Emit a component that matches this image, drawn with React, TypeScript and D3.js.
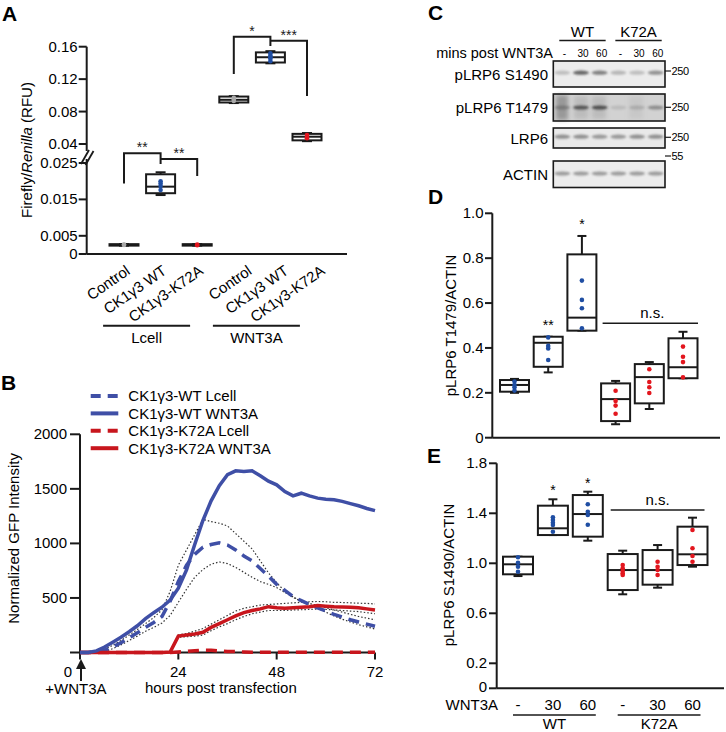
import React from 'react';
import * as d3 from 'd3';

const FONT = '"Liberation Sans", Arial, Helvetica, sans-serif';
const BLUE_LINE = '#3f4fa6';
const RED_LINE = '#c8161d';
const BLUE_DOT = '#1f4ea3';
const RED_DOT = '#e3161e';
const GRAY_DOT = '#a9a9a9';
const INK = '#1a1a1a';

// ---------- Panel A ----------
const aGroups = ['Lcell', 'WNT3A'];
const aCategories = ['Control', 'CK1γ3 WT', 'CK1γ3-K72A'];
const aKeys = ['L-Control', 'L-WT', 'L-K72A', 'W-Control', 'W-WT', 'W-K72A'];
// [min, q1, median, q3, max]
const aStats = [
  [0.0023, 0.0023, 0.0025, 0.0027, 0.0027],
  [0.0162, 0.0167, 0.0185, 0.0219, 0.02245],
  [0.0023, 0.0023, 0.0025, 0.0027, 0.0027],
  [0.0905, 0.0912, 0.0945, 0.0985, 0.099],
  [0.1395, 0.1405, 0.147, 0.153, 0.1545],
  [0.0435, 0.0445, 0.049, 0.0525, 0.0535],
];
const aPoints = [
  [0.0025, 0.0026],
  [0.02, 0.0194, 0.0187, 0.0176],
  [0.0024, 0.0026],
  [0.093, 0.095, 0.097],
  [0.142, 0.145, 0.147, 0.149, 0.152],
  [0.047, 0.049, 0.051],
];
const aColors = [GRAY_DOT, BLUE_DOT, RED_DOT, GRAY_DOT, BLUE_DOT, RED_DOT];
const aTicksLow = [0, 0.005, 0.015, 0.025];
const aTickLowLabels = ['0', '0.005', '0.015', '0.025'];
const aTicksHigh = [0.04, 0.08, 0.12, 0.16];
const aTickHighLabels = ['0.04', '0.08', '0.12', '0.16'];
// brackets: left idx, mid idx, right idx, left foot, top1, mid foot, top2, right foot, labels
const aBrackets = [
  { l: 0, m: 1, r: 2, lf: 0.0194, t1: 0.0277, mf: 0.0247, t2: 0.0261, rf: 0.0214, s1: '**', s2: '**' },
  { l: 3, m: 4, r: 5, lf: 0.1263, t1: 0.1723, mf: 0.1608, t2: 0.1674, rf: 0.0992, s1: '*', s2: '***' },
];

// ---------- Panel B ----------
const hours = [0, 2, 4, 6, 8, 10, 12, 14, 16, 18, 20, 22, 24, 26, 28, 30, 32, 34, 36, 38, 40, 42, 44, 46, 48, 50, 52, 54, 56, 58, 60, 62, 64, 66, 68, 70, 72];
const wtLcell = [0, 0, 5, 20, 50, 90, 135, 180, 230, 275, 330, 470, 650, 800, 900, 965, 990, 1005, 985, 940, 885, 840, 770, 700, 625, 570, 512, 475, 440, 410, 380, 350, 325, 300, 280, 260, 240];
const wtLcellUpper = [0, 0, 10, 30, 65, 110, 160, 210, 265, 320, 390, 560, 800, 940, 1080, 1220, 1200, 1185, 1160, 1090, 1020, 950, 840, 730, 640, 560, 505, 470, 450, 430, 410, 390, 370, 350, 330, 315, 300];
const wtLcellLower = [0, 0, 0, 10, 35, 70, 110, 150, 195, 230, 270, 340, 460, 580, 690, 760, 810, 830, 815, 780, 735, 690, 650, 625, 595, 550, 510, 470, 440, 405, 370, 335, 305, 280, 255, 235, 215];
const wtWnt = [0, 0, 15, 50, 95, 140, 190, 245, 310, 365, 415, 480, 590, 757, 990, 1210, 1390, 1530, 1630, 1665, 1660, 1665, 1620, 1570, 1537, 1475, 1436, 1460, 1435, 1415, 1405, 1400, 1385, 1365, 1345, 1320, 1300];
const k72aLcell = [0, 0, 0, 0, 0, 0, 0, 0, 0, 0, 0, 0, 5, 10, 15, 20, 20, 15, 10, 8, 5, 3, 3, 3, 3, 3, 3, 3, 3, 3, 3, 3, 3, 3, 3, 3, 3];
const k72aWnt = [0, 0, 0, 0, 0, 0, 0, 0, 0, 0, 0, 5, 150, 160, 170, 185, 230, 265, 300, 335, 365, 385, 400, 420, 410, 405, 410, 415, 420, 430, 425, 420, 418, 415, 410, 400, 390];
const k72aWntUpper = [0, 0, 0, 0, 0, 0, 0, 0, 0, 0, 0, 5, 160, 175, 195, 220, 260, 300, 340, 380, 405, 420, 435, 440, 445, 450, 455, 460, 465, 468, 465, 460, 458, 455, 452, 450, 445];
const k72aWntLower = [0, 0, 0, 0, 0, 0, 0, 0, 0, 0, 0, 5, 140, 145, 150, 160, 200, 235, 265, 300, 330, 355, 370, 385, 385, 385, 390, 392, 395, 398, 395, 390, 385, 380, 375, 365, 355];
const bYTicks = [0, 500, 1000, 1500, 2000];
const bYTickLabels = ['', '500', '1000', '1500', '2000'];
const bXTicks = [0, 24, 48, 72];
const bLegend = ['CK1γ3-WT Lcell', 'CK1γ3-WT WNT3A', 'CK1γ3-K72A Lcell', 'CK1γ3-K72A WNT3A'];

// ---------- Panel C ----------
const cGroups = ['WT', 'K72A'];
const cLanes = ['-', '30', '60', '-', '30', '60'];
const cRows = ['pLRP6 S1490', 'pLRP6 T1479', 'LRP6', 'ACTIN'];
const bandS1490 = [0.25, 0.75, 0.6, 0.3, 0.25, 0.5];
const bandT1479 = [0.35, 0.8, 0.85, 0.15, 0.2, 0.45];
const bandLRP6 = [0.5, 0.5, 0.45, 0.45, 0.5, 0.5];
const bandActin = [0.45, 0.45, 0.45, 0.45, 0.45, 0.45];
const cMarkers = ['250', '250', '250', '55'];

// ---------- Panel D ----------
const deLanes = ['-', '30', '60', '-', '30', '60'];
const deGroups = ['WT', 'K72A'];
const deColors = [BLUE_DOT, BLUE_DOT, BLUE_DOT, RED_DOT, RED_DOT, RED_DOT];
const dStats = [
  [0.2, 0.205, 0.235, 0.257, 0.262],
  [0.291, 0.316, 0.423, 0.45, 0.45],
  [0.477, 0.477, 0.535, 0.817, 0.899],
  [0.06, 0.074, 0.172, 0.242, 0.253],
  [0.128, 0.153, 0.27, 0.328, 0.337],
  [0.265, 0.265, 0.314, 0.443, 0.472],
];
const dPoints = [
  [0.25, 0.235, 0.225, 0.21],
  [0.447, 0.409, 0.398, 0.346],
  [0.7, 0.614, 0.577, 0.488],
  [0.209, 0.164, 0.143, 0.107],
  [0.305, 0.248, 0.225, 0.199],
  [0.406, 0.361, 0.337, 0.269],
];
const dTicks = [0, 0.2, 0.4, 0.6, 0.8, 1.0];
const dTickLabels = ['0', '0.2', '0.4', '0.6', '0.8', '1.0'];
const dStars = ['', '**', '*', '', '', ''];

// ---------- Panel E ----------
const eStats = [
  [0.898, 0.912, 0.992, 1.053, 1.053],
  [1.226, 1.226, 1.28, 1.461, 1.512],
  [1.181, 1.213, 1.394, 1.546, 1.573],
  [0.752, 0.786, 0.946, 1.074, 1.101],
  [0.805, 0.829, 0.946, 1.106, 1.146],
  [0.973, 0.986, 1.072, 1.293, 1.365],
];
const ePoints = [
  [1.048, 1.005, 0.973, 0.933],
  [1.368, 1.346, 1.325, 1.306, 1.253],
  [1.472, 1.413, 1.386, 1.309],
  [0.986, 0.96, 0.938, 0.92, 0.906],
  [1.013, 0.973, 0.946, 0.906],
  [1.266, 1.12, 1.058, 1.013],
];
const eTicks = [0, 0.2, 0.6, 1.0, 1.4, 1.8];
const eTickLabels = ['0', '0.2', '0.6', '1.0', '1.4', '1.8'];
const eStars = ['', '*', '*', '', '', ''];

type BoxProps = {
  cx: number; w: number; stats: number[]; y: (v: number) => number;
  pts: number[]; color: string; capW: number; sw?: number; r?: number;
};
function Box({ cx, w, stats, y, pts, color, capW, sw = 2, r = 2.3 }: BoxProps) {
  const [mn, q1, md, q3, mx] = stats;
  return (
    <g>
      <line x1={cx} x2={cx} y1={y(mx)} y2={y(q3)} stroke={INK} strokeWidth={sw} />
      <line x1={cx} x2={cx} y1={y(q1)} y2={y(mn)} stroke={INK} strokeWidth={sw} />
      <line x1={cx - capW / 2} x2={cx + capW / 2} y1={y(mx)} y2={y(mx)} stroke={INK} strokeWidth={sw} />
      <line x1={cx - capW / 2} x2={cx + capW / 2} y1={y(mn)} y2={y(mn)} stroke={INK} strokeWidth={sw} />
      <rect x={cx - w / 2} y={y(q3)} width={w} height={Math.max(0.5, y(q1) - y(q3))} fill="#fff" stroke={INK} strokeWidth={sw} />
      <line x1={cx - w / 2} x2={cx + w / 2} y1={y(md)} y2={y(md)} stroke={INK} strokeWidth={sw} />
      {pts.map((p, i) => (
        <circle key={i} cx={cx} cy={y(p)} r={r} fill={color} />
      ))}
    </g>
  );
}

export default function App() {
  // ----- Panel A -----
  const xA = d3.scalePoint<string>().domain(aKeys).range([124, 307]);
  const yALo = d3.scaleLinear().domain([0, 0.025]).range([254, 163]);
  const yAHi = d3.scaleLinear().domain([0.04, 0.16]).range([144, 46.7]);
  const yA = (v: number) => (v >= 0.035 ? yAHi(v) : yALo(v));
  const axA = 86.7;
  const labelOffsets = [7, 19];

  // ----- Panel B -----
  const xB = d3.scaleLinear().domain([0, 72]).range([80, 375]);
  const yB = d3.scaleLinear().domain([0, 2000]).range([652.5, 434.3]);
  const lineB = (vals: number[]) =>
    d3.line<number>().x((_, i) => xB(hours[i])).y((v) => yB(v))(vals) || '';
  const legendStyles = [
    { color: BLUE_LINE, dash: '10,7' },
    { color: BLUE_LINE, dash: '' },
    { color: RED_LINE, dash: '10,7' },
    { color: RED_LINE, dash: '' },
  ];

  // ----- Panel C -----
  const xC = d3.scalePoint<number>().domain(d3.range(6)).range([562.3, 655.7]);
  const boxesC = [
    { y0: 61, y1: 87, bg: '#ececec', band: bandS1490, by: 72.7, marker: 71 },
    { y0: 94, y1: 121, bg: '#d2d2d2', band: bandT1479, by: 107.5, marker: 107.3 },
    { y0: 128, y1: 148, bg: '#e9e9e9', band: bandLRP6, by: 136.7, marker: 137.3 },
    { y0: 161, y1: 187.5, bg: '#ececec', band: bandActin, by: 173.5, marker: 156 },
  ];

  // ----- Panel D -----
  const xD = d3.scalePoint<number>().domain(d3.range(6)).range([514.5, 683]);
  const yD = d3.scaleLinear().domain([0, 1]).range([437.7, 213.3]);
  // ----- Panel E -----
  const xE = d3.scalePoint<number>().domain(d3.range(6)).range([518, 692.5]);
  const yE = d3.scaleLinear().domain([0, 1.8]).range([688.3, 463.3]);

  return (
    <svg
      width={726}
      height={732}
      viewBox="0 0 726 732"
      style={{ position: 'absolute', left: 0, top: 0, background: '#fff' }}
      fontFamily={FONT}
    >
      <defs>
        <filter id="blur" x="-50%" y="-50%" width="200%" height="200%">
          <feGaussianBlur stdDeviation="0.9" />
        </filter>
        <filter id="blur2" x="-50%" y="-50%" width="200%" height="200%">
          <feGaussianBlur stdDeviation="2" />
        </filter>
        <marker id="arrowHead" viewBox="0 0 10 10" refX="5" refY="5" markerWidth="5" markerHeight="5" orient="auto">
          <path d="M0,0 L10,5 L0,10 z" fill={INK} />
        </marker>
      </defs>
      <rect x={0} y={0} width={726} height={732} fill="#fff" />

      {/* ================= Panel A ================= */}
      <text x={2} y={21} fontSize={21} fontWeight="bold">A</text>
      <line x1={axA} x2={axA} y1={yAHi(0.16)} y2={151} stroke={INK} strokeWidth={2} />
      <line x1={axA} x2={axA} y1={159} y2={254} stroke={INK} strokeWidth={2} />
      <line x1={81} x2={89} y1={164} y2={150} stroke={INK} strokeWidth={1.8} />
      <line x1={85.5} x2={93.5} y1={165} y2={151} stroke={INK} strokeWidth={1.8} />
      {aTicksHigh.map((t, i) => (
        <g key={'ah' + i}>
          <line x1={axA - 8} x2={axA} y1={yAHi(t)} y2={yAHi(t)} stroke={INK} strokeWidth={2} />
          <text x={axA - 9} y={yAHi(t) + 5} fontSize={15} textAnchor="end">{aTickHighLabels[i]}</text>
        </g>
      ))}
      {aTicksLow.map((t, i) => (
        <g key={'al' + i}>
          <line x1={axA - 8} x2={axA} y1={yALo(t)} y2={yALo(t)} stroke={INK} strokeWidth={2} />
          <text x={axA - 9} y={yALo(t) + 5} fontSize={15} textAnchor="end">{aTickLowLabels[i]}</text>
        </g>
      ))}
      <line x1={axA} x2={347} y1={254} y2={254} stroke={INK} strokeWidth={2} />
      <text transform="translate(32,150) rotate(-90)" fontSize={15} textAnchor="middle">
        Firefly/<tspan fontStyle="italic">Renilla</tspan> (RFU)
      </text>
      {aKeys.map((k, i) => (
        <Box key={k} cx={xA(k)!} w={29} stats={aStats[i]} y={yA} pts={aPoints[i]} color={aColors[i]} capW={10} r={2.3} />
      ))}
      {aBrackets.map((b, i) => {
        const xl = xA(aKeys[b.l])!;
        const xm = xA(aKeys[b.m])!;
        const xr = xA(aKeys[b.r])!;
        return (
          <g key={'br' + i} fill="none" stroke={INK} strokeWidth={2}>
            <polyline points={`${xl},${yA(b.lf)} ${xl},${yA(b.t1)} ${xm},${yA(b.t1)} ${xm},${yA(b.mf)}`} />
            <polyline points={`${xm},${yA(b.t2)} ${xr},${yA(b.t2)} ${xr},${yA(b.rf)}`} />
            <text x={(xl + xm) / 2} y={yA(b.t1) - 1} fontSize={14} textAnchor="middle" fill={INK} stroke="none">{b.s1}</text>
            <text x={(xm + xr) / 2} y={yA(b.t2) - 1} fontSize={14} textAnchor="middle" fill={INK} stroke="none">{b.s2}</text>
          </g>
        );
      })}
      {aKeys.map((k, i) => {
        const g = Math.floor(i / 3);
        const x = xA(k)! + labelOffsets[g];
        return (
          <text key={'al' + k} transform={`translate(${x},273) rotate(-35)`} fontSize={15} textAnchor="end">
            {aCategories[i % 3]}
          </text>
        );
      })}
      {aGroups.map((g, gi) => {
        const cx = (xA(aKeys[gi * 3])! + xA(aKeys[gi * 3 + 2])!) / 2 - 14;
        return (
          <g key={g}>
            <line x1={cx - 43.5} x2={cx + 43.5} y1={325.7} y2={325.7} stroke={INK} strokeWidth={2} />
            <text x={cx} y={343} fontSize={15} textAnchor="middle">{g}</text>
          </g>
        );
      })}

      {/* ================= Panel B ================= */}
      <text x={1} y={390} fontSize={21} fontWeight="bold">B</text>
      {bLegend.map((l, i) => (
        <g key={l}>
          <line x1={90.7} x2={118.3} y1={396 + i * 17.4} y2={396 + i * 17.4} stroke={legendStyles[i].color} strokeWidth={4} strokeDasharray={legendStyles[i].dash} />
          <text x={128.3} y={401.3 + i * 17.4} fontSize={15}>{l}</text>
        </g>
      ))}
      <line x1={80} x2={80} y1={yB(2000)} y2={yB(0)} stroke={INK} strokeWidth={2} />
      <line x1={80} x2={375} y1={yB(0)} y2={yB(0)} stroke={INK} strokeWidth={2} />
      {bYTicks.map((t, i) => (
        <g key={'by' + t}>
          <line x1={70} x2={80} y1={yB(t)} y2={yB(t)} stroke={INK} strokeWidth={2} />
          <text x={67} y={yB(t) + 5} fontSize={15} textAnchor="end">{bYTickLabels[i]}</text>
        </g>
      ))}
      {bXTicks.map((t) => (
        <g key={'bx' + t}>
          <line x1={xB(t)} x2={xB(t)} y1={yB(0)} y2={yB(0) + 7} stroke={INK} strokeWidth={2} />
          <text x={t === 0 ? xB(t) - 12 : xB(t)} y={677} fontSize={15} textAnchor="middle">{t}</text>
        </g>
      ))}
      <text transform={`translate(19,${(yB(0) + yB(2000)) / 2 - 5}) rotate(-90)`} fontSize={15} textAnchor="middle">
        Normalized GFP Intensity
      </text>
      <line x1={xB(0) + 1} x2={xB(0) + 1} y1={681} y2={664} stroke={INK} strokeWidth={2} markerEnd="url(#arrowHead)" />
      <text x={xB(0) - 4} y={694} fontSize={15} textAnchor="middle">+WNT3A</text>
      <text x={145} y={693} fontSize={15}>hours post transfection</text>
      <g fill="none" stroke="#333" strokeWidth={1.2} strokeDasharray="1.5,2">
        <path d={lineB(wtLcellUpper)} />
        <path d={lineB(wtLcellLower)} />
        <path d={lineB(k72aWntUpper)} />
        <path d={lineB(k72aWntLower)} />
      </g>
      <path d={lineB(k72aLcell)} fill="none" stroke={RED_LINE} strokeWidth={3.5} strokeDasharray="11,7" />
      <path d={lineB(wtLcell)} fill="none" stroke={BLUE_LINE} strokeWidth={3.5} strokeDasharray="11,7" />
      <path d={lineB(k72aWnt)} fill="none" stroke={RED_LINE} strokeWidth={3.5} />
      <path d={lineB(wtWnt)} fill="none" stroke={BLUE_LINE} strokeWidth={3.5} />

      {/* ================= Panel C ================= */}
      <text x={428} y={20} fontSize={21} fontWeight="bold">C</text>
      {cGroups.map((g, gi) => {
        const x0 = xC(gi * 3)! - 3;
        const x1 = xC(gi * 3 + 2)! + 6;
        return (
          <g key={'cg' + g}>
            <text x={(x0 + x1) / 2} y={37} fontSize={15} textAnchor="middle">{g}</text>
            <line x1={x0} x2={x1} y1={40.5} y2={40.5} stroke={INK} strokeWidth={1.6} />
          </g>
        );
      })}
      <text x={553} y={57.5} fontSize={14.5} textAnchor="end">mins post WNT3A</text>
      {cLanes.map((l, i) => (
        <text key={'cl' + i} x={xC(i)! + 2} y={56.7} fontSize={10} textAnchor="middle">{l}</text>
      ))}
      {boxesC.map((b, bi) => (
        <g key={'cb' + bi}>
          <rect x={553.3} y={b.y0} width={111.7} height={b.y1 - b.y0} fill={b.bg} />
          {bi === 1 && (
            <g filter="url(#blur2)">
              <rect x={556} y={b.y0 + 1} width={12} height={b.y1 - b.y0 - 2} fill="#555" opacity={0.45} />
              <rect x={574} y={b.y0 + 2} width={14} height={b.y1 - b.y0 - 4} fill="#888" opacity={0.3} />
              <rect x={592} y={b.y0 + 2} width={14} height={b.y1 - b.y0 - 4} fill="#888" opacity={0.3} />
              <rect x={629} y={b.y0 + 2} width={14} height={b.y1 - b.y0 - 4} fill="#999" opacity={0.2} />
            </g>
          )}
          {b.band.map((v, i) => (
            <ellipse key={i} cx={xC(i)!} cy={b.by} rx={8} ry={2.1} fill="#3a3a3a" opacity={v} filter="url(#blur)" />
          ))}
          <rect x={553.3} y={b.y0} width={111.7} height={b.y1 - b.y0} fill="none" stroke={INK} strokeWidth={1.6} />
          <text x={548} y={(b.y0 + b.y1) / 2 + 5.5} fontSize={15} textAnchor="end">{cRows[bi]}</text>
          <line x1={665} x2={671} y1={b.marker} y2={b.marker} stroke={INK} strokeWidth={1.2} />
          <text x={671.5} y={b.marker + 4} fontSize={11} letterSpacing={-0.4}>{cMarkers[bi]}</text>
        </g>
      ))}

      {/* ================= Panel D ================= */}
      <text x={428} y={204} fontSize={21} fontWeight="bold">D</text>
      <line x1={492.3} x2={492.3} y1={yD(1)} y2={yD(0)} stroke={INK} strokeWidth={2} />
      <line x1={492.3} x2={720} y1={yD(0)} y2={yD(0)} stroke={INK} strokeWidth={2} />
      {dTicks.map((t, i) => (
        <g key={'dt' + i}>
          <line x1={485} x2={492.3} y1={yD(t)} y2={yD(t)} stroke={INK} strokeWidth={2} />
          <text x={483.5} y={yD(t) + 5} fontSize={15} textAnchor="end">{dTickLabels[i]}</text>
        </g>
      ))}
      <text transform={`translate(456,${(yD(0) + yD(1)) / 2}) rotate(-90)`} fontSize={15} textAnchor="middle">
        pLRP6 T1479/ACTIN
      </text>
      {dStats.map((s, i) => (
        <g key={'db' + i}>
          <Box cx={xD(i)!} w={29} stats={s} y={yD} pts={dPoints[i]} color={deColors[i]} capW={9} />
          {dStars[i] && (
            <text x={xD(i)!} y={yD(s[4]) - 7} fontSize={14} textAnchor="middle">{dStars[i]}</text>
          )}
        </g>
      ))}
      <line x1={xD(3)! - 13} x2={xD(5)! + 15} y1={yD(0.51)} y2={yD(0.51)} stroke={INK} strokeWidth={1.6} />
      <text x={(xD(3)! + xD(5)!) / 2 + 3} y={yD(0.51) - 5} fontSize={15} textAnchor="middle">n.s.</text>

      {/* ================= Panel E ================= */}
      <text x={427} y={463} fontSize={21} fontWeight="bold">E</text>
      <line x1={496.7} x2={496.7} y1={yE(1.8)} y2={yE(0)} stroke={INK} strokeWidth={2} />
      <line x1={496.7} x2={724} y1={yE(0)} y2={yE(0)} stroke={INK} strokeWidth={2} />
      {eTicks.map((t, i) => (
        <g key={'et' + i}>
          <line x1={489} x2={496.7} y1={yE(t)} y2={yE(t)} stroke={INK} strokeWidth={2} />
          <text x={487} y={yE(t) + (t === 0 ? 4 : 5)} fontSize={15} textAnchor="end">{eTickLabels[i]}</text>
        </g>
      ))}
      <text transform={`translate(454,575) rotate(-90)`} fontSize={15} textAnchor="middle">
        pLRP6 S1490/ACTIN
      </text>
      {eStats.map((s, i) => (
        <g key={'eb' + i}>
          <Box cx={xE(i)!} w={30} stats={s} y={yE} pts={ePoints[i]} color={deColors[i]} capW={9} />
          {eStars[i] && (
            <text x={xE(i)!} y={yE(s[4]) - 4} fontSize={14} textAnchor="middle">{eStars[i]}</text>
          )}
        </g>
      ))}
      <line x1={xE(3)! - 12} x2={xE(5)! + 12} y1={yE(1.426)} y2={yE(1.426)} stroke={INK} strokeWidth={1.6} />
      <text x={(xE(3)! + xE(5)!) / 2} y={yE(1.426) - 5} fontSize={15} textAnchor="middle">n.s.</text>
      <text x={498} y={710} fontSize={15} textAnchor="end">WNT3A</text>
      {deLanes.map((l, i) => (
        <text key={'el' + i} x={xE(i)!} y={710} fontSize={15} textAnchor="middle">{l}</text>
      ))}
      {deGroups.map((g, gi) => {
        const x0 = xE(gi * 3)! - 5;
        const x1 = xE(gi * 3 + 2)! + 8;
        return (
          <g key={'eg' + g}>
            <line x1={x0} x2={x1} y1={715} y2={715} stroke={INK} strokeWidth={1.6} />
            <text x={(x0 + x1) / 2} y={729} fontSize={15} textAnchor="middle">{g}</text>
          </g>
        );
      })}
    </svg>
  );
}
